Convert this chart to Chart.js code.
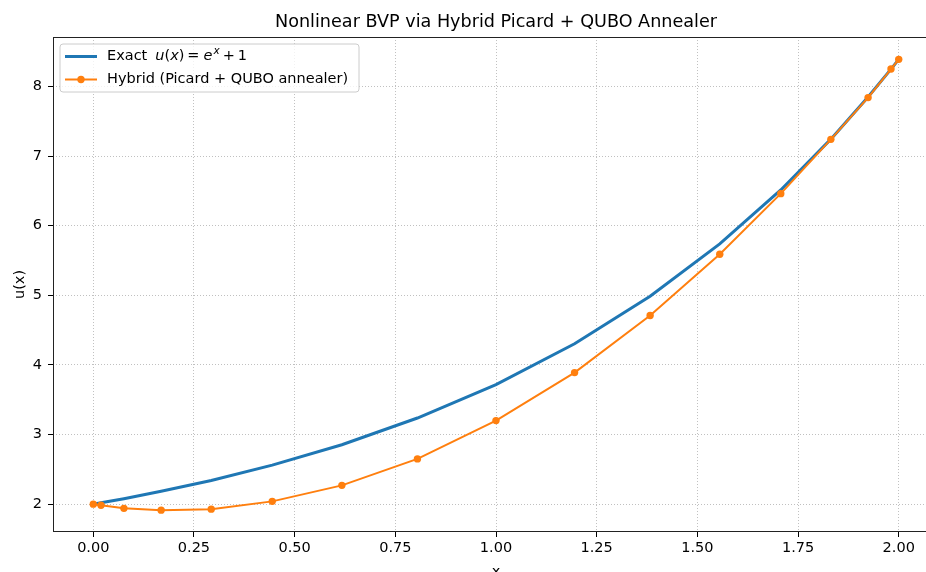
<!DOCTYPE html>
<html>
<head>
<meta charset="utf-8">
<script src="https://cdn.jsdelivr.net/npm/chart.js@4.4.1/dist/chart.umd.min.js"></script>
<style>
  html, body { margin: 0; padding: 0; background: #ffffff; overflow: hidden; }
  #wrap { width: 926px; height: 572px; overflow: hidden; position: relative; }
  canvas { display: block; }
</style>
</head>
<body>
<div id="wrap"><canvas id="c" width="943" height="572"></canvas></div>
<script>
// ---- data ----
const xNodes = [0.0, 0.0192, 0.0761, 0.1685, 0.2929, 0.4444, 0.6173, 0.8049, 1.0,
                1.1951, 1.3827, 1.5556, 1.7071, 1.8315, 1.9239, 1.9808, 2.0];
const exactU = [2.000, 2.019, 2.079, 2.184, 2.340, 2.560, 2.854, 3.237, 3.718,
                4.304, 4.986, 5.738, 6.513, 7.243, 7.848, 8.249, 8.389];
const hybridU = [2.000, 1.985, 1.940, 1.914, 1.928, 2.040, 2.270, 2.650, 3.200,
                 3.890, 4.710, 5.590, 6.460, 7.240, 7.840, 8.250, 8.389];
const xTicks = [0, 0.25, 0.5, 0.75, 1.0, 1.25, 1.5, 1.75, 2.0];
const xTickLabels = ["0.00", "0.25", "0.50", "0.75", "1.00", "1.25", "1.50", "1.75", "2.00"];
const yTicks = [2, 3, 4, 5, 6, 7, 8];
const yTickLabels = ["2", "3", "4", "5", "6", "7", "8"];
const titleText = "Nonlinear BVP via Hybrid Picard + QUBO Annealer";
const legendHybrid = "Hybrid (Picard + QUBO annealer)";

const BLUE = "#1f77b4", ORANGE = "#ff7f0e";
const FONT = "'DejaVu Sans', sans-serif";
const FS = 14.5;

const toPts = (ys) => xNodes.map((x, i) => ({ x: x, y: ys[i] }));

const boxPlugin = {
  id: 'boxPlugin',
  afterDraw(chart) {
    const { ctx, chartArea: a } = chart;
    ctx.save();
    ctx.strokeStyle = '#222222';
    ctx.lineWidth = 1;
    ctx.strokeRect(Math.round(a.left) + 0.5, Math.round(a.top) + 0.5,
                   Math.round(a.right - a.left) - 1, Math.round(a.bottom - a.top) - 1);

    // legend
    const lx = 60, ly = 44, lw = 299, lh = 48, r = 3;
    ctx.beginPath();
    ctx.moveTo(lx + r, ly);
    ctx.arcTo(lx + lw, ly, lx + lw, ly + lh, r);
    ctx.arcTo(lx + lw, ly + lh, lx, ly + lh, r);
    ctx.arcTo(lx, ly + lh, lx, ly, r);
    ctx.arcTo(lx, ly, lx + lw, ly, r);
    ctx.closePath();
    ctx.fillStyle = 'rgba(255,255,255,0.8)';
    ctx.fill();
    ctx.strokeStyle = '#cccccc';
    ctx.lineWidth = 1;
    ctx.stroke();

    const y1 = 56.5, y2 = 79.5;
    ctx.strokeStyle = BLUE; ctx.lineWidth = 3;
    ctx.beginPath(); ctx.moveTo(65, y1); ctx.lineTo(97, y1); ctx.stroke();
    ctx.strokeStyle = ORANGE; ctx.lineWidth = 2;
    ctx.beginPath(); ctx.moveTo(65, y2); ctx.lineTo(97, y2); ctx.stroke();
    ctx.fillStyle = ORANGE;
    ctx.beginPath(); ctx.arc(81, y2, 3.7, 0, Math.PI * 2); ctx.fill();

    ctx.fillStyle = '#000000';
    ctx.textBaseline = 'middle';
    ctx.textAlign = 'left';
    const up = FS + 'px ' + FONT, it = 'italic ' + FS + 'px ' + FONT, sup = 'italic 10.5px ' + FONT;
    let x = 107;
    const put = (t, f, dy, gapAfter) => {
      ctx.font = f; ctx.fillText(t, x, y1 + (dy || 0));
      x += ctx.measureText(t).width + (gapAfter || 0);
    };
    put('Exact', up, 0, 8);
    put('u', it); put('(', up); put('x', it); put(')', up, 0, 3);
    put('=', up, 0, 4);
    put('e', it, 0, 1); put('x', sup, -5, 3);
    put('+', up, 0, 3); put('1', up);
    ctx.font = up;
    ctx.fillText(legendHybrid, 107, y2);
    ctx.restore();
  }
};

new Chart(document.getElementById('c'), {
  type: 'scatter',
  data: {
    datasets: [
      { label: 'Exact', data: toPts(exactU), showLine: true, borderColor: BLUE,
        backgroundColor: BLUE, borderWidth: 3, pointRadius: 0, order: 2, tension: 0 },
      { label: 'Hybrid', data: toPts(hybridU), showLine: true, borderColor: ORANGE,
        backgroundColor: ORANGE, borderWidth: 2, pointRadius: 3.7, pointBorderWidth: 0,
        order: 1, tension: 0 }
    ]
  },
  options: {
    responsive: false,
    animation: false,
    devicePixelRatio: 1,
    events: [],
    layout: { padding: 0 },
    plugins: {
      legend: { display: false },
      tooltip: { enabled: false },
      title: {
        display: true, text: titleText, fullSize: false, color: '#000000',
        font: { family: FONT, size: 17.6, weight: 'normal', lineHeight: 1.2 },
        padding: { top: 12, bottom: 3.9 }
      }
    },
    scales: {
      x: {
        type: 'linear', min: -0.1, max: 2.1,
        afterBuildTicks: (s) => { s.ticks = xTicks.map(v => ({ value: v })); },
        afterFit: (s) => { s.height = 40; s.paddingLeft = 0; s.paddingRight = 0; },
        ticks: {
          autoSkip: false, maxRotation: 0, minRotation: 0, padding: 3, color: '#000000',
          font: { family: FONT, size: FS },
          callback: (v, i) => xTickLabels[i]
        },
        grid: {
          color: '#b0b0b0', lineWidth: 0.8,
          drawTicks: true, tickLength: 5, tickColor: '#000000', tickWidth: 1,
          tickBorderDash: [1, 0]
        },
        border: { display: false, dash: [1, 2] },
        title: { display: true, text: 'x', color: '#000000',
                 font: { family: FONT, size: FS }, padding: { top: 0, bottom: -9 } }
      },
      y: {
        type: 'linear', min: 1.60, max: 8.71,
        afterBuildTicks: (s) => { s.ticks = yTicks.map(v => ({ value: v })); },
        afterFit: (s) => { s.width = 53; s.paddingTop = 0; s.paddingBottom = 0; },
        ticks: {
          autoSkip: false, padding: 6, color: '#000000',
          font: { family: FONT, size: FS },
          callback: (v, i) => yTickLabels[i]
        },
        grid: {
          color: '#b0b0b0', lineWidth: 0.8,
          drawTicks: true, tickLength: 5, tickColor: '#000000', tickWidth: 1,
          tickBorderDash: [1, 0]
        },
        border: { display: false, dash: [1, 2] },
        title: { display: true, text: 'u(x)', color: '#000000',
                 font: { family: FONT, size: FS }, padding: { top: 12, bottom: 0 } }
      }
    }
  },
  plugins: [boxPlugin]
});
</script>
</body>
</html>
